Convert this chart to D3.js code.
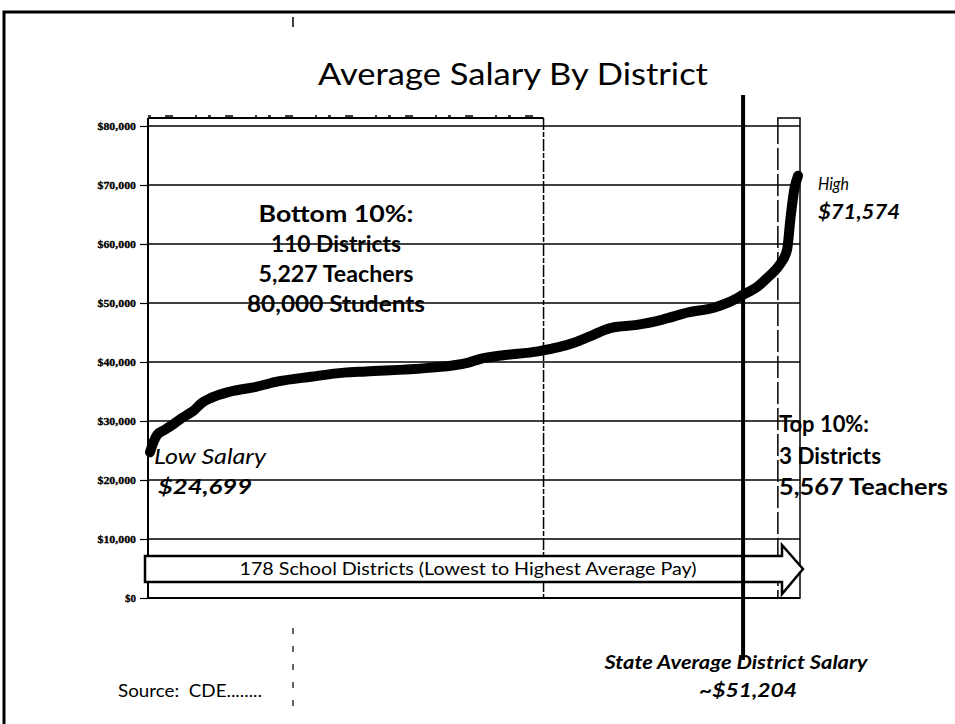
<!DOCTYPE html>
<html><head><meta charset="utf-8">
<script src="https://cdn.jsdelivr.net/npm/d3@7"></script>
<style>
html,body{margin:0;padding:0;background:#fff;}
svg{display:block;font-family:Lato,"Open Sans",sans-serif;}
</style></head>
<body>
<svg id="chart" width="955" height="724"></svg>
<script>
// ---- data ----
const districtRank = [1, 2, 3, 5, 7, 9, 11, 13, 15, 18, 23, 30, 36, 45, 54, 60, 77, 88, 91, 97, 107, 117, 121, 127, 134, 141, 148, 155, 159, 163, 167, 170, 173, 175, 176, 177, 178];
const avgSalary    = [24699, 26500, 27700, 28500, 29300, 30200, 31000, 31800, 33000, 34000, 35000, 35800, 36700, 37500, 38200, 38400, 39000, 39900, 40500, 41100, 41800, 43300, 44300, 45800, 46300, 47200, 48400, 49200, 50100, 51400, 52800, 54500, 56500, 59000, 64700, 69300, 71574];
const yTicks = [0, 10000, 20000, 30000, 40000, 50000, 60000, 70000, 80000];
const stateAvgRank = 163;
const bottomGroupEnd = 108.5;
const topGroupStart = 172.5;
const titleText = "Average Salary By District";
const arrowText = "178 School Districts (Lowest to Highest Average Pay)";
const bottomLines = ["Bottom 10%:", "110 Districts", "5,227 Teachers", "80,000 Students"];
const bottomWidths = [155, 130, 155, 178];
const topLines = ["Top 10%:", "3 Districts", "5,567 Teachers"];
const topWidths = [90, 102, 169];

const svg = d3.select("#chart");
svg.append("rect").attr("width",955).attr("height",724).attr("fill","#fff");

// frame
svg.append("path").attr("d","M4,724 V12 H955").attr("fill","none").attr("stroke","#000").attr("stroke-width",3);

const x = d3.scaleLinear().domain([1,178]).range([150,798]);
const y = d3.scaleLinear().domain([0,80000]).range([598,126]);
const left = 148, right = 800;

function txt(g, s, px, py, size, width, opts={}) {
  const t = g.append("text").attr("x",px).attr("y",py).attr("font-size",size).text(s);
  if (width) t.attr("textLength",width).attr("lengthAdjust","spacingAndGlyphs");
  if (opts.anchor) t.attr("text-anchor",opts.anchor);
  if (opts.bold) t.attr("font-weight","bold");
  if (opts.italic) t.attr("font-style","italic");
  return t;
}

// title
txt(svg, titleText, 513, 85, 31, 390, {anchor:"middle"});

// Bottom group text (drawn under gridlines)
bottomLines.forEach((t,i)=>txt(svg, t, 336, 222+i*30, 23, bottomWidths[i], {anchor:"middle", bold:true}));

// boxes for groups
const boxTop = 118;
svg.append("line").attr("x1",left).attr("x2",x(bottomGroupEnd)).attr("y1",boxTop).attr("y2",boxTop)
  .attr("stroke","#000").attr("stroke-width",2);
svg.append("line").attr("x1",left).attr("x2",x(bottomGroupEnd)).attr("y1",boxTop-2).attr("y2",boxTop-2)
  .attr("stroke","#000").attr("stroke-width",1.5).attr("stroke-dasharray","3,14,8,22,2,11");
svg.append("line").attr("x1",x(bottomGroupEnd)).attr("x2",x(bottomGroupEnd)).attr("y1",boxTop).attr("y2",y(0))
  .attr("stroke","#000").attr("stroke-width",1.5).attr("stroke-dasharray","12,2,5,2");
svg.append("rect").attr("x",x(topGroupStart)).attr("y",boxTop).attr("width",right-x(topGroupStart)).attr("height",y(0)-boxTop)
  .attr("fill","none").attr("stroke","#000").attr("stroke-width",1.5);
svg.append("line").attr("x1",x(topGroupStart)).attr("x2",x(topGroupStart)).attr("y1",boxTop+12).attr("y2",y(0))
  .attr("stroke","#fff").attr("stroke-width",2).attr("stroke-dasharray","0,14,4,8");

// stray dashed guide
svg.append("line").attr("x1",293).attr("x2",293).attr("y1",17).attr("y2",27).attr("stroke","#000").attr("stroke-width",1.5);
svg.append("line").attr("x1",293).attr("x2",293).attr("y1",628).attr("y2",712).attr("stroke","#000").attr("stroke-width",1.2).attr("stroke-dasharray","6,12");

// gridlines
svg.append("g").selectAll("line").data(yTicks.filter(d=>d>0)).join("line")
  .attr("x1",left).attr("x2",right).attr("y1",d=>y(d)).attr("y2",d=>y(d))
  .attr("stroke","#000").attr("stroke-width",1.5);
svg.append("line").attr("x1",left).attr("x2",right).attr("y1",y(0)).attr("y2",y(0)).attr("stroke","#000").attr("stroke-width",2);

// y axis
const ax = svg.append("g").attr("transform",`translate(${left},0)`)
  .call(d3.axisLeft(y).tickValues(yTicks).tickSize(8).tickPadding(4).tickFormat(d3.format("$,.0f")));
ax.select(".domain").attr("stroke","#000").attr("stroke-width",2).attr("d",`M0,${boxTop}V${y(0)}`);
ax.selectAll(".tick line").attr("stroke","#000").attr("stroke-width",1.2);
ax.selectAll(".tick text").attr("font-size",11).attr("font-weight","bold").attr("fill","#000")
  .attr("font-family","'Liberation Serif',serif").attr("stroke","#000").attr("stroke-width",0.3)
  .each(function(d){ const w = d3.format("$,.0f")(d).length; d3.select(this).attr("textLength", w*5.5).attr("lengthAdjust","spacingAndGlyphs"); });

// arrow
const aL = 145, aR = 782, aTip = 803, bTop = 556, bBot = 582, hTop = 545, hBot = 594;
const aMid = (bTop+bBot)/2;
svg.append("path").attr("d",`M${aL},${bTop}H${aR}V${hTop}L${aTip},${aMid}L${aR},${hBot}V${bBot}H${aL}Z`)
  .attr("fill","#fff").attr("stroke","#000").attr("stroke-width",2.5).attr("stroke-linejoin","miter");
txt(svg, arrowText, 468, aMid+6, 18, 457, {anchor:"middle"});

// state average line
svg.append("line").attr("x1",x(stateAvgRank)).attr("x2",x(stateAvgRank)).attr("y1",95).attr("y2",660)
  .attr("stroke","#000").attr("stroke-width",4);

// salary curve
const line = d3.line().x((d,i)=>x(districtRank[i])).y(d=>y(d)).curve(d3.curveMonotoneX);
svg.append("path").datum(avgSalary).attr("d",line).attr("fill","none").attr("stroke","#000")
  .attr("stroke-width",10).attr("stroke-linejoin","round").attr("stroke-linecap","round");

// top group text
topLines.forEach((t,i)=>txt(svg, t, 779, 432+i*31.5, 22, topWidths[i], {bold:true}));

// high / low labels
txt(svg, "High", 818, 190, 17, 31, {italic:true});
txt(svg, d3.format("$,")(avgSalary[avgSalary.length-1]), 818, 219, 20, 82, {italic:true, bold:true});
txt(svg, "Low Salary", 154, 464, 21, 112, {italic:true});
txt(svg, d3.format("$,")(avgSalary[0]), 158, 494, 21, 94, {italic:true, bold:true});

// source + state average caption
txt(svg, "Source:  CDE........", 118, 697, 18, 144).attr("xml:space","preserve");
txt(svg, "State Average District Salary", 736, 669, 19, 263, {anchor:"middle", italic:true, bold:true});
txt(svg, "~$51,204", 748, 697, 19, 98, {anchor:"middle", italic:true, bold:true});
</script>
</body></html>
